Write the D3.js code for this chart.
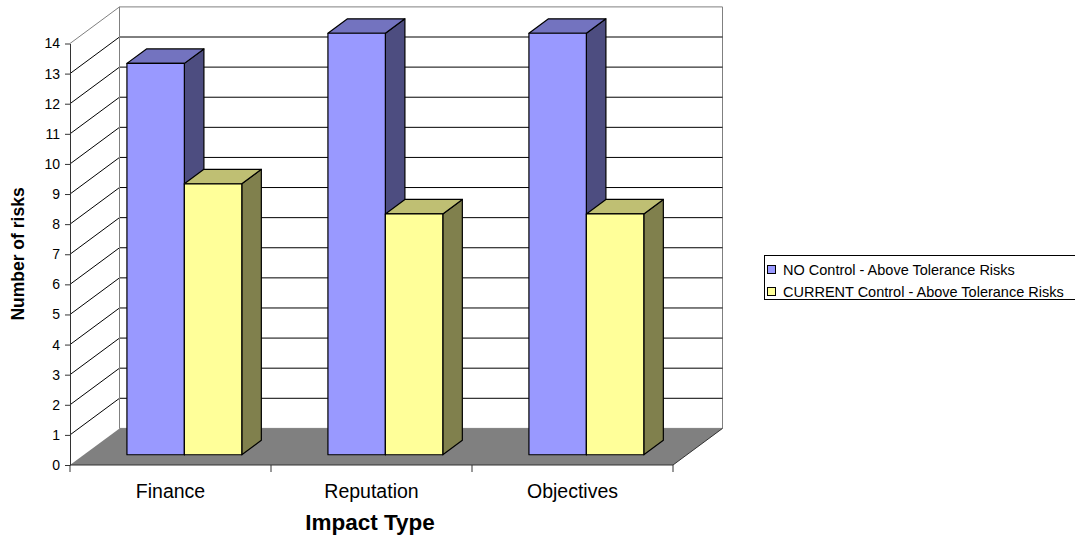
<!DOCTYPE html>
<html>
<head>
<meta charset="utf-8">
<script src="https://cdn.jsdelivr.net/npm/d3@7"></script>
<style>
  html, body { margin: 0; padding: 0; background: #fff; }
  svg { display: block; font-family: Arial, "Liberation Sans", sans-serif; }
</style>
</head>
<body>
<svg id="chart" width="1075" height="540"></svg>
<script>
// Chart data
const categories = ["Finance", "Reputation", "Objectives"];
const seriesNames = ["NO Control - Above Tolerance Risks", "CURRENT Control - Above Tolerance Risks"];
const noControl = [13, 14, 14];
const currentControl = [9, 8, 8];
const yTicks = [0, 1, 2, 3, 4, 5, 6, 7, 8, 9, 10, 11, 12, 13, 14];

// Face colours: front, top (75%), side (50%)
const palette = [
  { front: "#9999ff", top: "#7373bf", side: "#4d4d80" },
  { front: "#ffff99", top: "#bfbf73", side: "#80804d" }
];

const svg = d3.select("#chart");

// Front plane scales
const x = d3.scaleBand().domain(categories).range([70, 673]).padding(0);
const xs = d3.scaleBand().domain(d3.range(seriesNames.length))
  .range([0, x.bandwidth()]).paddingInner(0).paddingOuter(0.75);
const y = d3.scaleLinear().domain([0, 14]).range([465, 43.5]);

// Oblique depth projection
const DX = 49.5, DY = -36.6;
const barFront = 0.28, barBack = 0.675;
const P = (px, py, d) => [px + d * DX, py + d * DY];
const poly = pts => "M" + pts.map(p => p.join(",")).join("L") + "Z";

const yMin = y(0), yMax = y(14);
const xL = x.range()[0], xR = x.range()[1];

// Back wall
svg.append("path")
  .attr("d", poly([P(xL, yMax, 1), P(xR, yMax, 1), P(xR, yMin, 1), P(xL, yMin, 1)]))
  .attr("fill", "#fff").attr("stroke", "#808080").attr("stroke-width", 1);

// Gridlines on back wall and side wall
const grid = svg.append("g");
yTicks.filter(v => v > 0 && v < 14).forEach(v => {
  const a = P(xL, y(v), 0), b = P(xL, y(v), 1), c = P(xR, y(v), 1);
  grid.append("path").attr("d", `M${a}L${b}L${c}`)
    .attr("fill", "none").attr("stroke", "#000").attr("stroke-width", 1);
});
// Side wall outline
svg.append("path")
  .attr("d", `M${P(xL, yMax, 0)}L${P(xL, yMax, 1)}L${P(xL, yMin, 1)}`)
  .attr("fill", "none").attr("stroke", "#808080").attr("stroke-width", 1);

// Floor
svg.append("path")
  .attr("d", poly([P(xL, yMin, 0), P(xR, yMin, 0), P(xR, yMin, 1), P(xL, yMin, 1)]))
  .attr("fill", "#808080").attr("stroke", "none");
svg.append("path")
  .attr("d", `M${P(xR, yMin, 0)}L${P(xR, yMin, 1)}`)
  .attr("stroke", "#333").attr("stroke-width", 1);

// Bars (drawn left to right so right neighbours overlap side faces)
const seriesValues = [noControl, currentControl];
const bars = svg.append("g").attr("stroke", "#000").attr("stroke-width", 1.2).attr("stroke-linejoin", "round");
categories.forEach((cat, ci) => {
  seriesValues.forEach((vals, si) => {
    const x0 = x(cat) + xs(si), x1 = x0 + xs.bandwidth();
    const yt = y(vals[ci]), yb = y(0);
    const c = palette[si];
    // side
    bars.append("path").attr("fill", c.side)
      .attr("d", poly([P(x1, yt, barFront), P(x1, yt, barBack), P(x1, yb, barBack), P(x1, yb, barFront)]));
    // top
    bars.append("path").attr("fill", c.top)
      .attr("d", poly([P(x0, yt, barFront), P(x1, yt, barFront), P(x1, yt, barBack), P(x0, yt, barBack)]));
    // front
    bars.append("path").attr("fill", c.front)
      .attr("d", poly([P(x0, yt, barFront), P(x1, yt, barFront), P(x1, yb, barFront), P(x0, yb, barFront)]));
  });
});

// Y axis
const yAxis = svg.append("g").attr("transform", `translate(${xL},0)`)
  .call(d3.axisLeft(y).tickValues(yTicks).tickSize(5).tickPadding(5).tickSizeOuter(0));
yAxis.select(".domain").attr("stroke", "#333");
yAxis.selectAll(".tick line").attr("stroke", "#333");
yAxis.selectAll("text").attr("font-size", "14px").attr("fill", "#000")
  .attr("font-family", "Arial, 'Liberation Sans', sans-serif");

// X axis (ticks at category boundaries)
const boundaries = categories.map(c => x(c)).concat([xR]);
const xAxisG = svg.append("g");
xAxisG.append("line").attr("x1", xL).attr("x2", xR).attr("y1", yMin).attr("y2", yMin)
  .attr("stroke", "#333");
boundaries.forEach(bx => {
  xAxisG.append("line").attr("x1", bx).attr("x2", bx).attr("y1", yMin).attr("y2", yMin + 7)
    .attr("stroke", "#333");
});
categories.forEach(cat => {
  xAxisG.append("text").attr("x", x(cat) + x.bandwidth() / 2).attr("y", 498)
    .attr("text-anchor", "middle").attr("font-size", "19.5px").text(cat);
});

// Axis titles
svg.append("text").attr("x", 370).attr("y", 530).attr("text-anchor", "middle")
  .attr("font-size", "22.5px").attr("font-weight", "bold").text("Impact Type");
svg.append("text").attr("transform", "translate(24,254) rotate(-90)").attr("text-anchor", "middle")
  .attr("font-size", "17.5px").attr("font-weight", "bold").text("Number of risks");

// Legend
const lg = svg.append("g");
lg.append("rect").attr("x", 764.5).attr("y", 255.5).attr("width", 320).attr("height", 44)
  .attr("fill", "#fff").attr("stroke", "#000").attr("stroke-width", 1);
seriesNames.forEach((name, i) => {
  const ry = 265 + i * 22;
  lg.append("rect").attr("x", 767.5).attr("y", ry + 0.5).attr("width", 8).attr("height", 8)
    .attr("fill", palette[i].front).attr("stroke", "#000");
  lg.append("text").attr("x", 783).attr("y", ry + 10).attr("font-size", "14.5px").text(name);
});
</script>
</body>
</html>
